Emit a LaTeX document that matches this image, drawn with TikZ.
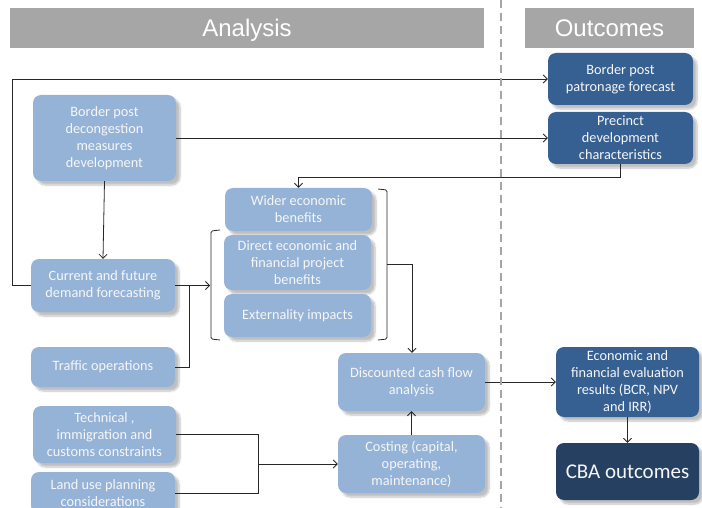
\documentclass[tikz,border=0pt]{standalone}
\usepackage{fontspec}
\setmainfont{Carlito}
\newfontfamily\headfont{Liberation Sans}
\usetikzlibrary{arrows.meta,shadows.blur}
\definecolor{lightblue}{RGB}{149,179,215}
\definecolor{darkblue}{RGB}{55,96,146}
\definecolor{darkerblue}{RGB}{37,64,97}
\definecolor{headgray}{RGB}{166,166,166}
\definecolor{linecol}{RGB}{40,40,40}
\definecolor{boxtext}{RGB}{246,246,246}
\begin{document}
\begin{tikzpicture}[x=1pt,y=-1pt,
  box/.style={rounded corners=8pt, text=boxtext, align=center, inner sep=1pt,
    font=\fontsize{14.3}{17}\selectfont,
    blur shadow={shadow xshift=4pt, shadow yshift=-4pt, shadow opacity=25, shadow blur steps=6}},
  lbox/.style={box, fill=lightblue},
  dbox/.style={box, fill=darkblue},
  hdr/.style={fill=headgray, text=white, inner sep=0pt, text height=17pt, text depth=0pt,
    font=\headfont\fontsize{24}{28}\selectfont},
  conn/.style={draw=linecol, line width=0.8pt},
  arr/.style={conn, -{Straight Barb[length=4pt,width=8pt]}},
  sz/.style 2 args={minimum width=#1pt, minimum height=#2pt}
]
\useasboundingbox (0,0) rectangle (702,508);

% headers
\node[hdr, sz={474}{40}] (hA) at (247,28) {Analysis};
\node[hdr, sz={169}{40}] (hO) at (609.5,28) {Outcomes};

% nodes
\node[lbox, sz={143}{86}] (bpd) at (104.5,138) {Border post\\decongestion\\measures\\development};
\node[lbox, sz={144}{53}] (cur) at (103,285.5) {Current and future\\demand forecasting};
\node[lbox, sz={144}{40}] (tra) at (103,367) {Traffic operations};
\node[lbox, sz={143}{57}] (tec) at (104.5,434.5) {Technical ,\\immigration and\\customs constraints};
\node[lbox, sz={144}{42}] (lan) at (103,493) {Land use planning\\considerations};
\node[lbox, sz={147}{43}] (wid) at (298.5,209.5) {Wider economic\\benefits};
\node[lbox, sz={147}{55}] (dir) at (297.5,262.5) {Direct economic and\\financial project\\benefits};
\node[lbox, sz={147}{43}] (ext) at (297.5,315.5) {Externality impacts};
\node[lbox, sz={147}{58}] (dcf) at (411.5,382) {Discounted cash flow\\analysis};
\node[lbox, sz={147}{58}] (cos) at (411.5,464) {Costing (capital,\\operating,\\maintenance)};
\node[dbox, sz={145}{52}] (bpp) at (620.5,79) {Border post\\patronage forecast};
\node[dbox, sz={145}{52}] (pre) at (620.5,138) {Precinct\\development\\characteristics};
\node[dbox, sz={143}{70}] (eco) at (627.5,382) {Economic and\\financial evaluation\\results (BCR, NPV\\and IRR)};
\node[box, fill=darkerblue, sz={143}{57}, font=\fontsize{21}{25}\selectfont] (cba) at (627.5,471.5) {CBA outcomes};

% coordinates
\coordinate (loopA) at (12,285.5);
\coordinate (loopB) at (12,79);
\coordinate (lbm) at (210,285.5);
\coordinate (trj) at (189,285.5);
\coordinate (rbm) at (387,264);
\coordinate (rbo) at (412,264);
\coordinate (tlj) at (258,464);

% connectors
\draw[arr] (cur.west) -- (loopA) -- (loopB) -- (bpp.west);
\draw[arr] (bpd.east) -- (pre.west);
\draw[arr] (pre.south) -- ++(0,13) -| (wid.north);
\draw[arr] (bpd.south) -- (cur.north);
\draw[arr] (cur.east) -- (lbm);
\draw[conn] (tra.east) -| (trj);
% brackets
\draw[conn, rounded corners=1.5pt] (220,230) -- (211,231) -- (211,339) -- (220,340);
\draw[conn, rounded corners=1.5pt] (378,189) -- (387,190) -- (387,339) -- (378,340);
\draw[arr] (rbm) -- (rbo) -- (dcf.north -| rbo);
\draw[arr] (dcf.east) -- (eco.west);
\draw[arr] (cos.north) -- (dcf.south);
\draw[conn] (tec.east) -| (tlj);
\draw[conn] (lan.east) -| (tlj);
\draw[arr] (tlj) -- (cos.west);
\draw[arr] (eco.south) -- (cba.north);

% dashed divider
\draw[headgray, line width=2pt, dash pattern=on 8pt off 5pt] (501,0) -- (501,508);
\end{tikzpicture}
\end{document}
